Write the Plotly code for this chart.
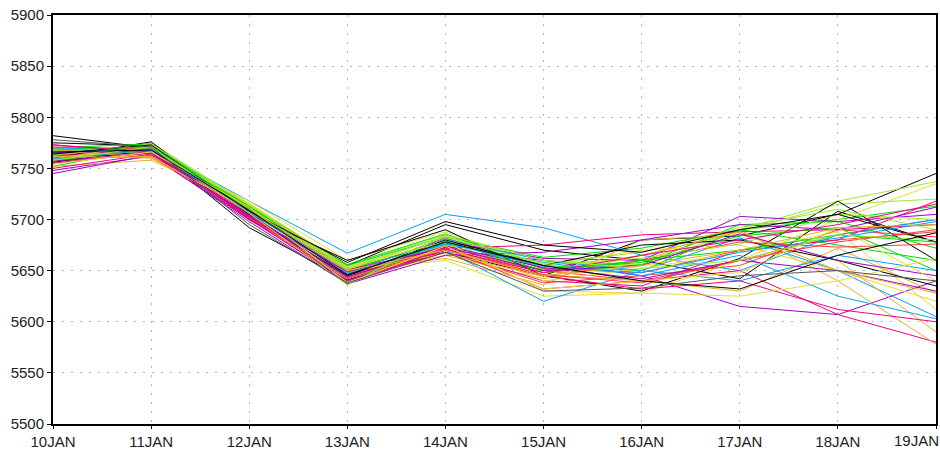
import plotly.graph_objects as go

days = ["10JAN", "11JAN", "12JAN", "13JAN", "14JAN", "15JAN", "16JAN", "17JAN", "18JAN", "19JAN"]
y_ticks = [5500, 5550, 5600, 5650, 5700, 5750, 5800, 5850, 5900]

m01 = [5782, 5770, 5692, 5641, 5668, 5645, 5680, 5684, 5705, 5745]
m02 = [5768, 5766, 5705, 5645, 5675, 5650, 5640, 5660, 5685, 5700]
m03 = [5760, 5772, 5710, 5650, 5680, 5655, 5650, 5690, 5700, 5713]
m04 = [5762, 5770, 5718, 5667, 5705, 5692, 5665, 5650, 5685, 5700]
m05 = [5748, 5762, 5700, 5640, 5670, 5660, 5645, 5615, 5607, 5640]
m06 = [5755, 5765, 5705, 5644, 5672, 5632, 5640, 5650, 5607, 5580]
m07 = [5765, 5768, 5715, 5650, 5660, 5625, 5628, 5660, 5700, 5735]
m08 = [5770, 5760, 5712, 5645, 5665, 5642, 5660, 5690, 5640, 5578]
m09 = [5758, 5775, 5715, 5655, 5685, 5660, 5655, 5690, 5718, 5737]
m10 = [5775, 5772, 5700, 5655, 5695, 5670, 5660, 5642, 5708, 5678]
m11 = [5763, 5768, 5708, 5648, 5682, 5652, 5648, 5670, 5680, 5688]
m12 = [5752, 5770, 5712, 5652, 5676, 5648, 5656, 5695, 5698, 5672]
m13 = [5770, 5768, 5706, 5642, 5670, 5620, 5650, 5682, 5650, 5605]
m14 = [5760, 5766, 5704, 5645, 5678, 5662, 5660, 5703, 5698, 5705]
m15 = [5773, 5765, 5700, 5647, 5668, 5640, 5635, 5670, 5680, 5718]
m16 = [5757, 5764, 5718, 5660, 5688, 5655, 5670, 5675, 5650, 5620]
m17 = [5752, 5758, 5714, 5650, 5662, 5636, 5680, 5685, 5660, 5590]
m18 = [5766, 5772, 5710, 5648, 5675, 5650, 5665, 5688, 5715, 5720]
m19 = [5760, 5776, 5705, 5660, 5690, 5645, 5630, 5662, 5718, 5660]
m20 = [5758, 5765, 5702, 5640, 5668, 5638, 5645, 5655, 5690, 5683]
m21 = [5770, 5774, 5712, 5655, 5683, 5663, 5672, 5690, 5675, 5660]
m22 = [5765, 5770, 5708, 5646, 5676, 5658, 5645, 5665, 5625, 5603]
m23 = [5745, 5763, 5698, 5637, 5665, 5668, 5680, 5695, 5690, 5712]
m24 = [5762, 5767, 5702, 5651, 5672, 5675, 5685, 5688, 5690, 5695]
m25 = [5768, 5770, 5714, 5652, 5680, 5640, 5652, 5668, 5688, 5612]
m26 = [5760, 5762, 5709, 5647, 5671, 5646, 5640, 5630, 5672, 5628]
m27 = [5763, 5773, 5711, 5651, 5684, 5657, 5668, 5692, 5710, 5690]
m28 = [5756, 5768, 5703, 5645, 5680, 5655, 5675, 5680, 5660, 5635]
m29 = [5771, 5769, 5706, 5643, 5673, 5648, 5660, 5678, 5673, 5676]
m30 = [5757, 5771, 5713, 5656, 5686, 5651, 5658, 5684, 5692, 5650]
m31 = [5766, 5769, 5710, 5648, 5681, 5660, 5650, 5640, 5665, 5650]
m32 = [5765, 5767, 5704, 5644, 5674, 5653, 5642, 5660, 5650, 5630]
m33 = [5750, 5764, 5701, 5638, 5670, 5645, 5632, 5640, 5612, 5600]
m34 = [5761, 5767, 5716, 5654, 5678, 5630, 5628, 5625, 5640, 5662]
m35 = [5767, 5761, 5711, 5649, 5667, 5644, 5665, 5688, 5650, 5628]
m36 = [5759, 5774, 5714, 5653, 5683, 5656, 5662, 5676, 5705, 5700]
m37 = [5764, 5773, 5708, 5658, 5698, 5675, 5668, 5690, 5705, 5678]
m38 = [5755, 5766, 5703, 5642, 5671, 5646, 5638, 5660, 5678, 5690]
m39 = [5768, 5771, 5711, 5639, 5679, 5650, 5660, 5670, 5685, 5678]
m40 = [5759, 5768, 5707, 5647, 5677, 5654, 5648, 5668, 5682, 5698]
m41 = [5757, 5765, 5703, 5649, 5673, 5650, 5655, 5686, 5660, 5645]
m42 = [5773, 5766, 5704, 5640, 5671, 5648, 5665, 5680, 5695, 5715]
m43 = [5754, 5766, 5712, 5638, 5674, 5632, 5640, 5648, 5692, 5640]
m44 = [5762, 5760, 5710, 5650, 5670, 5645, 5655, 5670, 5692, 5695]
m45 = [5758, 5771, 5706, 5636, 5685, 5660, 5652, 5660, 5685, 5680]
m46 = [5766, 5768, 5709, 5646, 5678, 5655, 5640, 5632, 5665, 5687]
m47 = [5778, 5771, 5695, 5638, 5668, 5630, 5633, 5645, 5650, 5640]

members = [m01, m02, m03, m04, m05, m06, m07, m08, m09, m10, m11, m12, m13, m14, m15, m16,
           m17, m18, m19, m20, m21, m22, m23, m24, m25, m26, m27, m28, m29, m30, m31, m32,
           m33, m34, m35, m36, m37, m38, m39, m40, m41, m42, m43, m44, m45, m46, m47]

palette = ["#000000", "#fa3c3c", "#00dc00", "#00a0ff", "#a000c8", "#f00082",
           "#e6dc32", "#e6af2d", "#a0e632"]

xfont = dict(family="Liberation Sans Narrow, Arial Narrow, sans-serif", size=15, color="#222222")

fig = go.Figure()
for i, vals in enumerate(members):
    color = palette[i % len(palette)]
    if i == len(members) - 1:
        color = "#555555"
    fig.add_trace(go.Scatter(x=list(range(len(days))), y=vals, mode="lines",
                             line=dict(color=color, width=1), showlegend=False,
                             hoverinfo="skip"))

# last label is right-aligned at the edge so it stays inside the window
tick_text = days[:-1] + [""]
fig.add_annotation(x=len(days) - 1, y=0, xref="x", yref="paper", text=days[-1],
                   showarrow=False, xanchor="right", yanchor="top", xshift=5, yshift=-6,
                   font=xfont)

fig.update_layout(
    width=940, height=450,
    margin=dict(l=53, r=4, t=15, b=26, autoexpand=False),
    plot_bgcolor="white", paper_bgcolor="white",
    font=dict(family="Liberation Sans, Arial, sans-serif", size=15, color="#222222"),
)
fig.update_xaxes(
    range=[0, 9], tickmode="array", tickvals=list(range(len(days))), ticktext=tick_text,
    showgrid=True, gridcolor="#b4b4b4", griddash="2px,7px", gridwidth=1,
    showline=True, mirror=True, linecolor="black", linewidth=2,
    ticks="outside", ticklen=3, tickcolor="black",
    tickfont=xfont, ticklabeloverflow="allow", automargin=False,
    zeroline=False,
)
fig.update_yaxes(
    range=[5500, 5900], tickmode="array", tickvals=y_ticks,
    showgrid=True, gridcolor="#b4b4b4", griddash="2px,7px", gridwidth=1,
    showline=True, mirror=True, linecolor="black", linewidth=2,
    ticks="outside", ticklen=4, tickcolor="black",
    automargin=False, ticklabeloverflow="allow",
    zeroline=False,
)
fig.write_html("out.html", config={"displayModeBar": False},
               post_script="document.body.style.margin='0';document.body.style.overflow='hidden';")
